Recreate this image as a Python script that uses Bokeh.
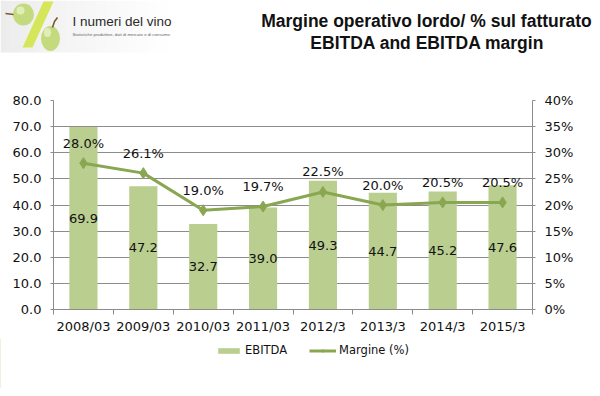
from bokeh.plotting import figure
from bokeh.models import (Range1d, LinearAxis, FixedTicker, PrintfTickFormatter,
                          Legend, LegendItem, ColumnDataSource)
from bokeh.layouts import column, row
from bokeh.core.properties import value
from bokeh.embed import file_html
from bokeh.resources import INLINE

years = ["2008/03", "2009/03", "2010/03", "2011/03", "2012/3", "2013/3", "2014/3", "2015/3"]
ebitda = [69.9, 47.2, 32.7, 39.0, 49.3, 44.7, 45.2, 47.6]
margin = [28.0, 26.1, 19.0, 19.7, 22.5, 20.0, 20.5, 20.5]
left_ticks = [0, 10, 20, 30, 40, 50, 60, 70, 80]
right_ticks = [0, 5, 10, 15, 20, 25, 30, 35, 40]

FONT = "DejaVu Sans"
BAR = "#B9CE8F"
LINE = "#89A650"
GRID = "#8C8C8C"
TXT = "#111111"

W = 592
HH, MH, FH = 64, 274, 50

xs = [i + 0.5 for i in range(len(years))]
src = ColumnDataSource(dict(
    x=xs, ebitda=ebitda, margin=margin,
    half=[v / 2 for v in ebitda],
    elab=["%.1f" % v for v in ebitda],
    mlab=["%.1f%%" % v for v in margin],
))

# ---------- header (logo + title) ----------
hd = figure(width=W, height=HH, x_range=Range1d(0, W), y_range=Range1d(HH, 0),
            output_backend="svg", toolbar_location=None,
            x_axis_location=None, y_axis_location=None,
            min_border=0, min_border_left=0, min_border_right=0,
            min_border_top=0, min_border_bottom=0)
hd.grid.visible = False
hd.outline_line_color = None

n = 34
for i in range(n):
    x0 = i * 172 / n
    g = int(236 + (255 - 236) * (i / (n - 1)) ** 0.8)
    hd.quad(left=[x0], right=[x0 + 172 / n + 0.6], top=[0], bottom=[52],
            fill_color="#%02x%02x%02x" % (g, g, g), line_color=None)
# slash of the "%"
hd.patch(x=[43, 53, 32, 22], y=[1, 1, 47, 47], fill_color="#D5E65A", line_color=None)
# grapes
hd.ellipse(x=[23], y=[14], width=21, height=22, fill_color="#C4DA7E", line_color=None)
hd.ellipse(x=[50], y=[38], width=19, height=25, fill_color="#C4DA7E", line_color=None)
hd.ellipse(x=[20], y=[10], width=8, height=8, fill_color="#E2EEB8", line_color=None)
hd.ellipse(x=[47], y=[32], width=7, height=9, fill_color="#E2EEB8", line_color=None)
hd.line(x=[5, 9, 13], y=[13, 13.5, 14], line_color="#7A5A30", line_width=1.6)
hd.line(x=[52, 54, 57], y=[27, 21, 17], line_color="#7A5A30", line_width=1.6)
hd.text(x=[72], y=[20.5], text=["I numeri del vino"], text_font=value("Liberation Sans"),
        text_font_size="13.5px", text_color="#2A2A2A", text_baseline="middle", text_align="left")
hd.text(x=[72], y=[34], text=["Statistiche produttive, dati di mercato e di consumo."],
        text_font=value("Liberation Sans"), text_font_size="4.3px", text_color="#666666",
        text_baseline="middle", text_align="left")
hd.text(x=[426, 427], y=[20.5, 42],
        text=["Margine operativo lordo/ % sul fatturato", "EBITDA and EBITDA margin"],
        text_font=value("Liberation Sans"), text_font_style="bold",
        text_font_size="17.5px", text_color=TXT, text_align="center",
        text_baseline="middle")

# ---------- main chart ----------
p = figure(width=W, height=MH, x_range=Range1d(0, 8), y_range=Range1d(0, 80),
           output_backend="svg", toolbar_location=None,
           min_border_left=53, min_border_right=60, min_border_top=36, min_border_bottom=29)
p.outline_line_color = None
p.extra_y_ranges = {"pct": Range1d(0, 40)}

bars = p.vbar(x="x", top="ebitda", width=0.47, source=src, fill_color=BAR, line_color=None)
ln = p.line(x="x", y="margin", source=src, y_range_name="pct", line_color=LINE, line_width=3)
mk = p.scatter(x="x", y="margin", source=src, y_range_name="pct", marker="diamond",
               size=11, fill_color=LINE, line_color=LINE)

p.text(x="x", y="half", text="elab", source=src, text_font=value(FONT), text_font_size="13px",
       text_align="center", text_baseline="middle", text_color=TXT)
p.text(x="x", y="margin", text="mlab", source=src, y_range_name="pct", y_offset=-20,
       text_font=value(FONT), text_font_size="13px", text_align="center",
       text_baseline="middle", text_color=TXT)

xa = p.xaxis[0]
xa.ticker = FixedTicker(ticks=xs, minor_ticks=list(range(len(years) + 1)))
xa.major_label_overrides = {x: y for x, y in zip(xs, years)}
xa.major_tick_out = 0
xa.major_tick_in = 0
xa.minor_tick_out = 5
xa.minor_tick_in = 0
xa.minor_tick_line_color = GRID
xa.axis_line_color = GRID
xa.major_label_text_font = FONT
xa.major_label_text_font_size = "13px"
xa.major_label_text_color = TXT
xa.major_label_standoff = 4

ya = p.yaxis[0]
ya.ticker = FixedTicker(ticks=left_ticks)
ya.formatter = PrintfTickFormatter(format="%.1f")
ya.minor_tick_line_color = None
ya.major_tick_out = 3
ya.major_tick_in = 0
ya.major_tick_line_color = GRID
ya.axis_line_color = GRID
ya.major_label_text_font = FONT
ya.major_label_text_font_size = "13px"
ya.major_label_text_color = TXT
ya.major_label_standoff = 9

ra = LinearAxis(y_range_name="pct", ticker=FixedTicker(ticks=right_ticks),
                formatter=PrintfTickFormatter(format="%d%%"))
ra.minor_tick_line_color = None
ra.major_tick_out = 3
ra.major_tick_in = 0
ra.major_tick_line_color = GRID
ra.axis_line_color = GRID
ra.major_label_text_font = FONT
ra.major_label_text_font_size = "13px"
ra.major_label_text_color = TXT
ra.major_label_standoff = 9
p.add_layout(ra, "right")

p.xgrid.visible = False
p.ygrid.ticker = FixedTicker(ticks=left_ticks)
p.ygrid.grid_line_color = GRID
p.ygrid.grid_line_width = 1

# ---------- footer with legend ----------
ft = figure(width=W, height=FH, x_range=Range1d(0, 1), y_range=Range1d(0, 1),
            output_backend="svg", toolbar_location=None,
            x_axis_location=None, y_axis_location=None,
            min_border=0, min_border_left=0, min_border_right=0,
            min_border_top=0, min_border_bottom=0)
ft.grid.visible = False
ft.outline_line_color = None
kb = ft.vbar(x=[-1000], top=[1], width=0.5, fill_color=BAR, line_color=None)
kl = ft.line(x=[-1000, -999], y=[0, 0], line_color=LINE, line_width=3)
km = ft.scatter(x=[-1000], y=[0], marker="diamond", size=8, fill_color=LINE, line_color=LINE)

legend = Legend(items=[LegendItem(label="EBITDA", renderers=[kb]),
                       LegendItem(label="Margine (%)", renderers=[kl, km])],
                orientation="horizontal", location=(215, 30))
legend.label_text_font = FONT
legend.label_text_font_size = "11.5px"
legend.label_text_color = TXT
legend.glyph_width = 27
legend.glyph_height = 7
legend.label_height = 16
legend.label_standoff = 3
legend.spacing = 22
legend.border_line_color = None
legend.background_fill_alpha = 0
legend.margin = 0
legend.padding = 2
ft.add_layout(legend, "center")

layout = column(row(hd), p, row(ft), spacing=0)
open("out.html", "w").write(file_html(layout, INLINE))
